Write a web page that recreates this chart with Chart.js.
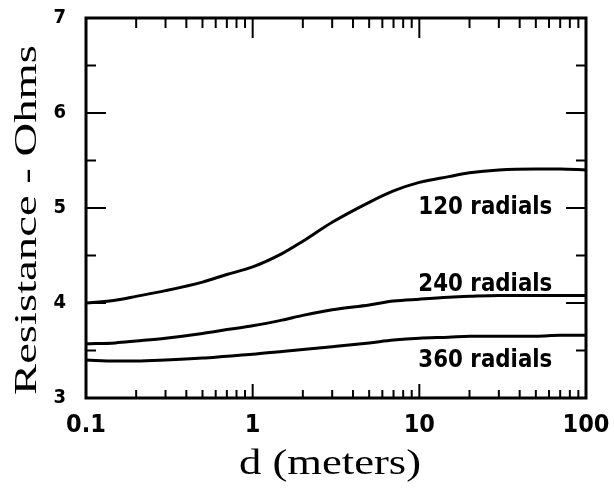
<!DOCTYPE html>
<html>
<head>
<meta charset="utf-8">
<script src="https://cdn.jsdelivr.net/npm/chart.js@4/dist/chart.umd.min.js"></script>
<style>
  html, body { margin: 0; padding: 0; background: #fff; }
  #wrap { width: 614px; height: 488px; }
</style>
</head>
<body>
<div id="wrap"><canvas id="Chart" width="614" height="488"></canvas></div>
<script>
const distances = [0.1, 0.15, 0.2, 0.3, 0.5, 0.7, 1, 1.5, 2, 3, 5, 7, 10, 15, 20, 30, 50, 70, 100];
const r120 = [4.00, 4.03, 4.07, 4.13, 4.22, 4.30, 4.38, 4.52, 4.65, 4.85, 5.06, 5.18, 5.27, 5.33, 5.37, 5.40, 5.41, 5.41, 5.40];
const r240 = [3.57, 3.58, 3.60, 3.63, 3.68, 3.72, 3.76, 3.82, 3.87, 3.93, 3.98, 4.02, 4.04, 4.06, 4.07, 4.08, 4.08, 4.08, 4.08];
const r360 = [3.40, 3.39, 3.39, 3.40, 3.42, 3.44, 3.46, 3.49, 3.51, 3.54, 3.58, 3.61, 3.63, 3.64, 3.65, 3.65, 3.65, 3.66, 3.66];
const seriesNames = ["120 radials", "240 radials", "360 radials"];
const labelSpots = [[10, 5.0], [10, 4.19], [10, 3.39]]; // data coords, left-middle of each label
const xTickValues = [0.1, 1, 10, 100];
const xTickLabels = ["0.1", "1", "10", "100"];
const yTickValues = [3, 4, 5, 6, 7];

const condensed = '"Liberation Sans Narrow", "DejaVu Sans Condensed", "DejaVu Sans", sans-serif';
const serif = '"Liberation Serif", "DejaVu Serif", serif';

const toPoints = (vals) => distances.map((d, i) => ({ x: d, y: vals[i] }));

function fitText(ctx, text, x, y, width, font, rotate) {
    ctx.save();
    ctx.font = font;
    const w = ctx.measureText(text).width;
    ctx.translate(x, y);
    if (rotate) ctx.rotate(-Math.PI / 2);
    ctx.scale(width / w, 1);
    ctx.fillText(text, 0, 0);
    ctx.restore();
}

const frame = {
    id: "frame",
    afterDraw(chart) {
        const { ctx, chartArea: a, scales } = chart;
        const xs = scales.x, ys = scales.y;
        ctx.save();
        ctx.strokeStyle = "#000";
        ctx.fillStyle = "#000";
        ctx.lineWidth = 3;
        ctx.strokeRect(a.left, a.top, a.right - a.left, a.bottom - a.top);

        // log ticks, inside, top and bottom
        ctx.lineWidth = 2;
        for (let p = -1; p <= 2; p++) {
            for (let m = 1; m <= 9; m++) {
                const v = m * Math.pow(10, p);
                if (v < 0.1 || v > 100) continue;
                const px = xs.getPixelForValue(v);
                const major = m === 1;
                ctx.beginPath();
                ctx.moveTo(px, a.top);
                ctx.lineTo(px, a.top + (major ? 20 : 10));
                ctx.moveTo(px, a.bottom);
                ctx.lineTo(px, a.bottom - (major ? 14 : 8));
                ctx.stroke();
            }
        }
        // y ticks, inside, left and right
        for (let v = 3; v <= 7; v += 0.5) {
            const py = ys.getPixelForValue(v);
            const len = Number.isInteger(v) ? 20 : 10;
            ctx.beginPath();
            ctx.moveTo(a.left, py);
            ctx.lineTo(a.left + len, py);
            ctx.moveTo(a.right, py);
            ctx.lineTo(a.right - len, py);
            ctx.stroke();
        }

        // y tick labels
        ctx.textAlign = "right";
        ctx.textBaseline = "middle";
        ctx.font = "bold 20px " + condensed;
        yTickValues.forEach(v => ctx.fillText(String(v), a.left - 20, ys.getPixelForValue(v)));

        // curve labels
        ctx.textAlign = "left";
        seriesNames.forEach((name, i) => {
            const [vx, vy] = labelSpots[i];
            fitText(ctx, name, xs.getPixelForValue(vx) - 1, ys.getPixelForValue(vy), 134,
                "bold 24px " + condensed, false);
        });

        // axis titles
        ctx.textAlign = "center";
        ctx.textBaseline = "alphabetic";
        fitText(ctx, "Resistance - Ohms", 36, 220, 350, "32px " + serif, true);
        fitText(ctx, "d (meters)", 330, 474, 182, "36px " + serif, false);
        ctx.restore();
    }
};

new Chart(document.getElementById("Chart"), {
    type: "line",
    data: {
        datasets: [r120, r240, r360].map((vals, i) => ({
            label: seriesNames[i],
            data: toPoints(vals),
            borderColor: "#000",
            borderWidth: 3,
            pointRadius: 0,
            cubicInterpolationMode: "monotone",
            fill: false,
        }))
    },
    options: {
        responsive: false,
        animation: false,
        layout: { padding: { top: 18, right: 28, left: 0, bottom: 0 } },
        plugins: { legend: { display: false }, tooltip: { enabled: false } },
        scales: {
            x: {
                type: "logarithmic",
                min: 0.1,
                max: 100,
                grid: { display: false },
                border: { display: false },
                afterBuildTicks: (s) => { s.ticks = xTickValues.map(v => ({ value: v })); },
                afterFit: (s) => { s.height = 90; },
                ticks: {
                    padding: 4,
                    color: "#000",
                    maxRotation: 0,
                    autoSkip: false,
                    font: { family: condensed, weight: "bold", size: 25 },
                    callback: (v) => xTickLabels[xTickValues.indexOf(v)] ?? "",
                },
            },
            y: {
                min: 3,
                max: 7,
                grid: { display: false },
                border: { display: false },
                afterBuildTicks: (s) => { s.ticks = yTickValues.map(v => ({ value: v })); },
                afterFit: (s) => { s.width = 86; },
                ticks: { display: false },
            },
        },
    },
    plugins: [frame],
});
</script>
</body>
</html>
